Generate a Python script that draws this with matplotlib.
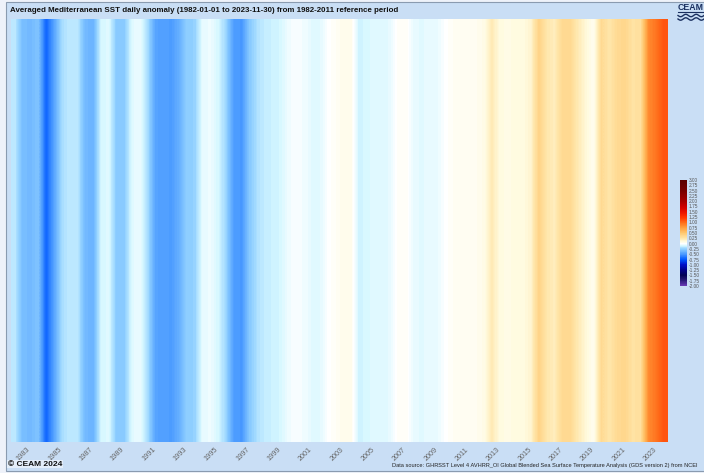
import numpy as np
import matplotlib
matplotlib.use("Agg")
import matplotlib.pyplot as plt
from matplotlib.colors import LinearSegmentedColormap, Normalize
from matplotlib.patches import Rectangle
from matplotlib.lines import Line2D

plt.rcParams['font.family'] = ['Liberation Sans', 'DejaVu Sans']

anomaly = [
    -0.15, -0.33, -0.35, -0.30, -0.70, -0.45, -0.20, -0.15, -0.15, -0.35,
    -0.38, -0.10, -0.08, -0.27, -0.27, -0.07, -0.05, -0.20, -0.45, -0.47,
    -0.48, -0.40, -0.25, -0.24, -0.06, -0.04, -0.10, -0.22, -0.48, -0.50,
    -0.28, -0.18, -0.14, -0.12, -0.10, -0.03, -0.02, -0.03, -0.07, -0.07,
    0.00, 0.03, 0.07, 0.06, -0.12, -0.09, -0.08, -0.08, -0.06, 0.03,
    0.03, -0.06, -0.07, -0.06, -0.05, 0.00, 0.03, 0.05, 0.05, 0.05,
    0.08, 0.22, 0.10, 0.08, 0.10, 0.10, 0.15, 0.40, 0.25, 0.20,
    0.35, 0.35, 0.22, 0.12, 0.05, 0.35, 0.25, 0.35, 0.38, 0.28,
    0.30, 0.85, 0.95, 1.10,
]
start_year = 1982.0
end_year = 2023.0 + 334 / 365.0   # 2023-11-30
tick_years = list(range(1983, 2024, 2))
cbar_ticks = np.arange(-2.0, 3.01, 0.25)

title = ("Averaged Mediterranean SST daily anomaly (1982-01-01 to 2023-11-30) "
         "from 1982-2011 reference period")
source = ("Data source: GHRSST Level 4 AVHRR_OI Global Blended Sea Surface "
          "Temperature Analysis (GDS version 2) from NCEI")

# colour scale like the CEAM one
stops = [
    (-2.0, '#6a3ab5'), (-1.75, '#2b1b7a'), (-1.5, '#000055'), (-1.25, '#00008a'),
    (-1.0, '#0010c8'), (-0.75, '#0058ff'), (-0.5, '#4a9aff'), (-0.25, '#90d0ff'),
    (-0.1, '#d8f8ff'), (0.0, '#ffffff'), (0.1, '#fffbe0'), (0.25, '#ffe6aa'),
    (0.5, '#ffc870'), (0.75, '#ffa040'), (1.0, '#ff6a18'), (1.25, '#ff3300'),
    (1.5, '#e81000'), (1.75, '#cc0000'), (2.0, '#a80000'), (2.5, '#780000'),
    (3.0, '#5a0000'),
]
cmap = LinearSegmentedColormap.from_list(
    'ceam', [((v + 2.0) / 5.0, c) for v, c in stops])
norm = Normalize(-2.0, 3.0)

W, H = 704, 473
fig = plt.figure(figsize=(W / 100, H / 100), dpi=100)
fig.patch.set_facecolor('#eef2fa')
fig.add_artist(Rectangle((6 / W, 2 / H), 1.0, (H - 4) / H, transform=fig.transFigure,
                         facecolor='#c9def5', edgecolor='#8a9bb0', linewidth=0.8,
                         zorder=-10))

ax = fig.add_axes([11 / W, 1 - 442 / H, (668 - 11) / W, (442 - 19) / H])
ax.imshow(np.array([anomaly]), cmap=cmap, norm=norm, aspect='auto',
          interpolation='bilinear', extent=[start_year, end_year, 0, 1])
ax.set_xlim(start_year, end_year)
ax.set_ylim(0, 1)
ax.set_yticks([])
ax.set_xticks(tick_years)
ax.set_xticklabels([str(y) for y in tick_years], rotation=45, ha='right',
                   rotation_mode='anchor', fontsize=5.2, color='#666666')
ax.tick_params(axis='x', length=0, pad=3)
for s in ax.spines.values():
    s.set_visible(False)

cax = fig.add_axes([680 / W, 1 - 286 / H, 7 / W, 106 / H])
cb = fig.colorbar(plt.cm.ScalarMappable(norm=norm, cmap=cmap), cax=cax,
                  ticks=cbar_ticks)
cb.ax.set_yticklabels([f'{t:.2f}' for t in cbar_ticks], fontsize=3.4,
                      color='#555555')
cb.ax.tick_params(length=0, pad=1)
cb.outline.set_visible(False)

fig.text(10 / W, 1 - 10 / H, title, fontsize=5.7, fontweight='bold',
         ha='left', va='center', color='#111111')
fig.text(697 / W, 1 - 465.5 / H, source, fontsize=4.1, ha='right', va='center',
         color='#222222')
fig.text(8 / W, 1 - 464 / H, '\u00a9 CEAM 2024', fontsize=6, fontweight='bold',
         ha='left', va='center', color='#111111',
         bbox=dict(facecolor='#e4eefa', edgecolor='none', pad=0.6))

# CEAM logo
fig.text(678 / W, 1 - 7 / H, 'CEAM', fontsize=6.3, fontweight='bold',
         ha='left', va='center', color='#1a3060')
fig.add_artist(Line2D([678 / W, 704 / W], [1 - 12 / H, 1 - 12 / H],
                      transform=fig.transFigure, color='#1a3060', linewidth=0.8))
wx = np.linspace(678, 704, 60)
for y0 in (15.5, 19):
    wy = y0 + 1.2 * np.sin((wx - 678) / 26 * 2 * np.pi * 2.5)
    fig.add_artist(Line2D(wx / W, 1 - wy / H, transform=fig.transFigure,
                          color='#1a3060', linewidth=1.0))

fig.savefig('out.png', dpi=100, facecolor=fig.get_facecolor())
